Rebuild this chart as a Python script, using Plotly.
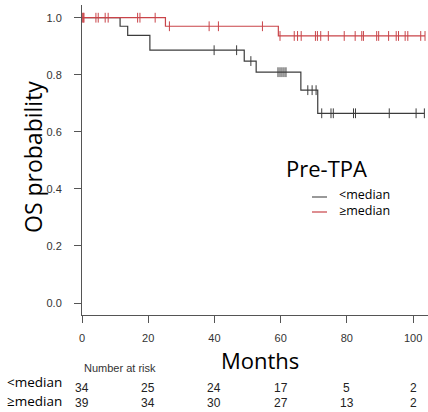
import numpy as np
import plotly.graph_objects as go

# Kaplan-Meier estimates, OS by pre-treatment TPA group
months_ticks = [0, 20, 40, 60, 80, 100]
prob_ticks = [0.0, 0.2, 0.4, 0.6, 0.8, 1.0]

low_times = [0, 11.5, 13.8, 20.5, 49.0, 52.6, 66.1, 71.2]
low_surv = [1.0, 0.970, 0.938, 0.886, 0.848, 0.809, 0.746, 0.665]
low_censor = [39.9, 46.7, 51.0, 59.2, 59.8, 60.4, 61.0, 61.6, 68.2, 69.5, 70.7,
              72.4, 75.2, 75.9, 82.0, 82.6, 92.8, 100.9, 103.4]

high_times = [0, 25.2, 59.3]
high_surv = [1.0, 0.970, 0.936]
high_censor = [0.2, 0.4, 0.6, 4.2, 4.9, 7.0, 7.9, 16.8, 17.5, 22.1, 26.4, 38.4,
               41.2, 54.5, 59.8, 64.1, 65.1, 66.2, 70.5, 71.1, 72.1, 74.4, 79.2,
               82.5, 84.5, 85.0, 89.0, 89.6, 92.6, 94.9, 95.6, 97.6, 98.4,
               102.3, 103.6]

group_labels = ["<median", "\u2265median"]
risk_times = [0, 20, 40, 60, 80, 100]
risk_low = [34, 25, 24, 17, 5, 2]
risk_high = [39, 34, 30, 27, 13, 2]

W, H = 428, 412
L, R, T, B = 82, 0, 5, 97
PW, PH = W - L - R, H - T - B

BLACK = "#3c3c3c"
RED = "#c94449"
AXIS = "#555555"
TICKFONT = dict(family="Liberation Sans, Arial", size=11, color="#333333")
CAL = "Open Sans"


def px(x):
    return (x - L) / PW


def py(y):
    return (H - B - y) / PH


def surv_at(times, surv, t):
    idx = np.searchsorted(np.asarray(times), np.asarray(t), side="right") - 1
    return np.asarray(surv)[idx]


fig = go.Figure()

for times, surv, cens, color in [
    (low_times, low_surv, low_censor, BLACK),
    (high_times, high_surv, high_censor, RED),
]:
    end = max(cens)
    fig.add_trace(go.Scatter(
        x=list(times) + [end], y=list(surv) + [surv[-1]],
        mode="lines", line=dict(color=color, width=1.2, shape="hv"),
        showlegend=False, hoverinfo="skip", cliponaxis=False,
    ))
    fig.add_trace(go.Scatter(
        x=cens, y=surv_at(times, surv, cens),
        mode="markers",
        marker=dict(symbol="line-ns", size=7, line=dict(color=color, width=1)),
        showlegend=False, hoverinfo="skip", cliponaxis=False,
    ))

fig.update_xaxes(
    range=[0, 104.5], tickvals=months_ticks, ticktext=[str(v) for v in months_ticks],
    showline=True, linecolor=AXIS, linewidth=1, ticks="outside", ticklen=7,
    tickcolor=AXIS, tickfont=TICKFONT, showgrid=False, zeroline=False,
    ticklabelstandoff=6,
)
fig.update_yaxes(
    range=[-0.042, 1.0445], tickvals=prob_ticks, ticktext=[f"{v:.1f}" for v in prob_ticks],
    showline=True, linecolor=AXIS, linewidth=1, ticks="outside", ticklen=7,
    tickcolor=AXIS, tickfont=TICKFONT, showgrid=False, zeroline=False,
    ticklabelstandoff=10,
)

ann = []
# axis titles
ann.append(dict(text="OS probability", x=px(33), y=py(157), xref="paper", yref="paper",
                textangle=-90, showarrow=False, font=dict(family=CAL, size=23, color="#000"),
                xanchor="center", yanchor="middle"))
ann.append(dict(text="Months", x=px(260), y=py(360), xref="paper", yref="paper",
                showarrow=False, font=dict(family=CAL, size=22, color="#000"),
                xanchor="center", yanchor="middle"))
# legend block
ann.append(dict(text="Pre-TPA", x=px(284), y=py(168), xref="paper", yref="paper",
                showarrow=False, font=dict(family=CAL, size=22, color="#000"),
                xanchor="left", yanchor="middle"))
shapes = []
for color, yy in [("#555555", 197), (RED, 212)]:
    shapes.append(dict(type="line", xref="paper", yref="paper",
                       x0=px(312), x1=px(327), y0=py(yy), y1=py(yy),
                       line=dict(color=color, width=1.2)))
ann.append(dict(text="<br>".join(group_labels), x=px(337), y=py(202.5),
                xref="paper", yref="paper", align="left",
                showarrow=False, font=dict(family=CAL, size=12.5, color="#000"),
                xanchor="left", yanchor="middle"))

# number-at-risk table
ann.append(dict(text="Number at risk", x=0, y=py(368), xref="x", yref="paper",
                showarrow=False, font=dict(family="Liberation Sans, Arial", size=11, color="#333"),
                xanchor="left", yanchor="middle"))
for label, counts, ylab, ynum in [(group_labels[0], risk_low, 382, 387.5),
                                  (group_labels[1], risk_high, 401, 402.5)]:
    ann.append(dict(text=label, x=px(64), y=py(ylab), xref="paper", yref="paper",
                    showarrow=False, font=dict(family=CAL, size=13.5, color="#000"),
                    xanchor="right", yanchor="middle"))
    for t, n in zip(risk_times, counts):
        ann.append(dict(text=str(n), x=t, y=py(ynum), xref="x", yref="paper",
                        showarrow=False,
                        font=dict(family="Liberation Sans, Arial", size=12, color="#222"),
                        xanchor="center", yanchor="middle"))

fig.update_layout(
    width=W, height=H, margin=dict(l=L, r=R, t=T, b=B),
    paper_bgcolor="white", plot_bgcolor="white",
    annotations=ann, shapes=shapes, showlegend=False,
)

fig.write_html("out.html")
